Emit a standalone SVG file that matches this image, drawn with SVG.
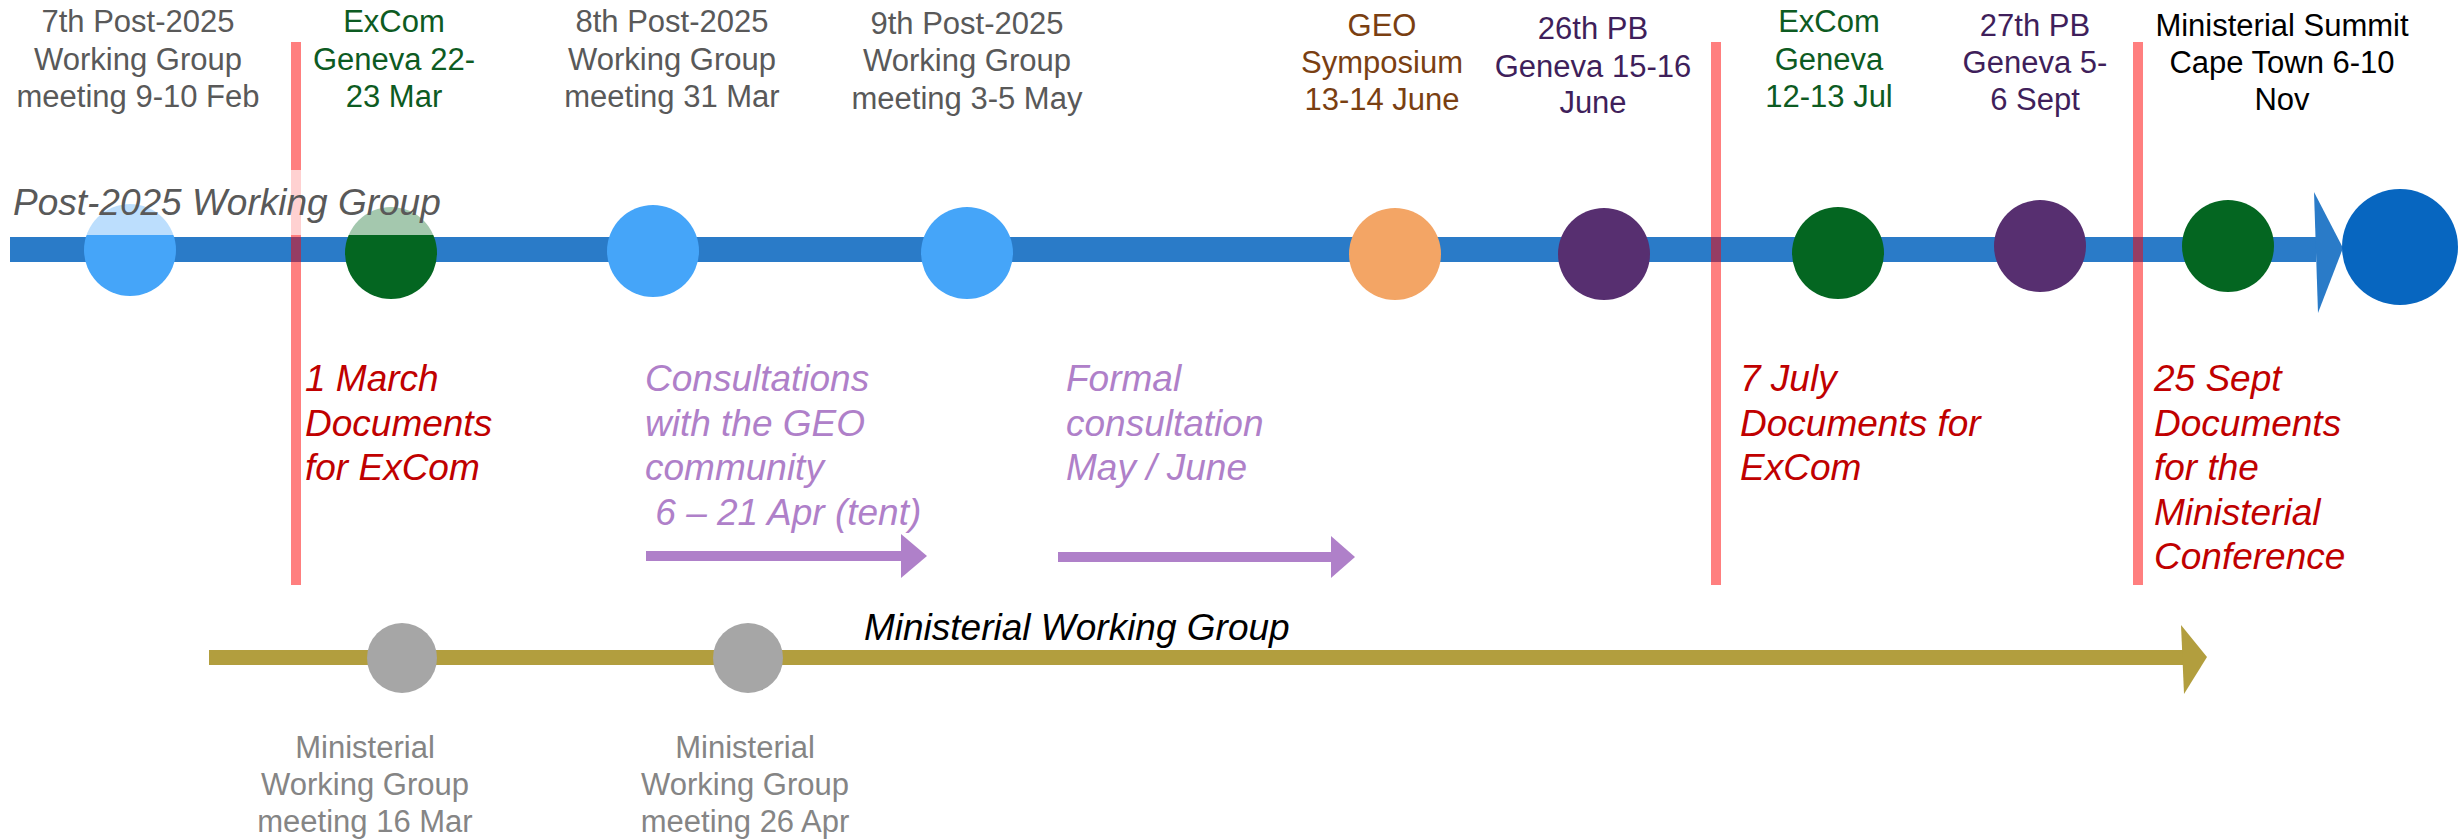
<svg xmlns="http://www.w3.org/2000/svg" width="2464" height="839" viewBox="0 0 2464 839">
<style>
.lbl{font-family:"Liberation Sans",Arial,sans-serif;font-size:31px;text-anchor:middle}
.it{font-family:"Liberation Sans",Arial,sans-serif;font-size:37px;font-style:italic}
.grey{fill:#595959}
.green{fill:#0D5B22}
.brown{fill:#7A3F12}
.purple{fill:#3F1F5B}
.black{fill:#000}
.mgrey{fill:#858585}
.red{fill:#C00000}
.lav{fill:#AF80C9}
.redline{fill:#FF0000;fill-opacity:0.5}
</style>
<rect width="2464" height="839" fill="#fff"/>
<g id="connectors">
  <rect x="10" y="237" width="2306" height="25" fill="#2A7BC8"/>
  <polygon points="2314,192 2343,248 2318,313" fill="#2A7BC8"/>
  <rect x="209" y="650" width="1975" height="15" fill="#B29E3E"/>
  <polygon points="2181,625 2207,657 2184,694" fill="#B29E3E"/>
  <rect x="646" y="551" width="257" height="10" fill="#AF80C9"/>
  <polygon points="901,534 927,556 901,578" fill="#AF80C9"/>
  <rect x="1058" y="552" width="275" height="10" fill="#AF80C9"/>
  <polygon points="1331,536 1355,557 1331,578" fill="#AF80C9"/>
</g>
<g id="pwg7"><ellipse cx="130" cy="250" rx="46" ry="46" fill="#45A5F9"/>
<text class="lbl grey"><tspan x="138" y="32">7th Post-2025</tspan><tspan x="138" y="70">Working Group</tspan><tspan x="138" y="107">meeting 9-10 Feb</tspan></text></g>
<g id="excom1"><ellipse cx="391" cy="253" rx="46" ry="46" fill="#046621"/>
<text class="lbl green"><tspan x="394" y="32">ExCom</tspan><tspan x="394" y="70">Geneva 22-</tspan><tspan x="394" y="107">23 Mar</tspan></text></g>
<g id="pwg8"><ellipse cx="653" cy="251" rx="46" ry="46" fill="#45A5F9"/>
<text class="lbl grey"><tspan x="672" y="32">8th Post-2025</tspan><tspan x="672" y="70">Working Group</tspan><tspan x="672" y="107">meeting 31 Mar</tspan></text></g>
<g id="pwg9"><ellipse cx="967" cy="253" rx="46" ry="46" fill="#45A5F9"/>
<text class="lbl grey"><tspan x="967" y="34">9th Post-2025</tspan><tspan x="967" y="71">Working Group</tspan><tspan x="967" y="109">meeting 3-5 May</tspan></text></g>
<g id="geo"><ellipse cx="1395" cy="254" rx="46" ry="46" fill="#F3A565"/>
<text class="lbl brown"><tspan x="1382" y="36">GEO</tspan><tspan x="1382" y="73">Symposium</tspan><tspan x="1382" y="110">13-14 June</tspan></text></g>
<g id="pb26"><ellipse cx="1604" cy="254" rx="46" ry="46" fill="#572F70"/>
<text class="lbl purple"><tspan x="1593" y="39">26th PB</tspan><tspan x="1593" y="77">Geneva 15-16</tspan><tspan x="1593" y="113">June</tspan></text></g>
<g id="excom2"><ellipse cx="1838" cy="253" rx="46" ry="46" fill="#046621"/>
<text class="lbl green"><tspan x="1829" y="32">ExCom</tspan><tspan x="1829" y="70">Geneva</tspan><tspan x="1829" y="107">12-13 Jul</tspan></text></g>
<g id="pb27"><ellipse cx="2040" cy="246" rx="46" ry="46" fill="#572F70"/>
<text class="lbl purple"><tspan x="2035" y="36">27th PB</tspan><tspan x="2035" y="73">Geneva 5-</tspan><tspan x="2035" y="110">6 Sept</tspan></text></g>
<g id="summit"><ellipse cx="2228" cy="246" rx="46" ry="46" fill="#046621"/>
<text class="lbl black"><tspan x="2282" y="36">Ministerial Summit</tspan><tspan x="2282" y="73">Cape Town 6-10</tspan><tspan x="2282" y="110">Nov</tspan></text></g>
<g id="end"><ellipse cx="2400" cy="247" rx="58" ry="58" fill="#0766C0"/></g>
<g id="deadlines">
  <rect class="redline" x="291" y="42" width="10" height="543"/>
  <rect class="redline" x="1711" y="42" width="10" height="543"/>
  <rect class="redline" x="2133" y="42" width="10" height="543"/>
</g>
<g id="pwg-title">
  <rect x="8" y="170" width="442" height="65" fill="#fff" fill-opacity="0.64"/>
  <text class="it grey" x="13" y="215">Post-2025 Working Group</text>
</g>
<g id="doc1"><text class="it red"><tspan x="305" y="391">1 March</tspan><tspan x="305" y="435.5">Documents</tspan><tspan x="305" y="480">for ExCom</tspan></text></g>
<g id="consult1"><text class="it lav"><tspan x="645" y="391">Consultations</tspan><tspan x="645" y="435.5">with the GEO</tspan><tspan x="645" y="480">community</tspan><tspan x="645" y="524.5" xml:space="preserve"> 6 – 21 Apr (tent)</tspan></text></g>
<g id="consult2"><text class="it lav"><tspan x="1066" y="391">Formal</tspan><tspan x="1066" y="435.5">consultation</tspan><tspan x="1066" y="480">May / June</tspan></text></g>
<g id="doc2"><text class="it red"><tspan x="1740" y="391">7 July</tspan><tspan x="1740" y="435.5">Documents for</tspan><tspan x="1740" y="480">ExCom</tspan></text></g>
<g id="doc3"><text class="it red"><tspan x="2154" y="391">25 Sept</tspan><tspan x="2154" y="435.5">Documents</tspan><tspan x="2154" y="480">for the</tspan><tspan x="2154" y="524.5">Ministerial</tspan><tspan x="2154" y="569">Conference</tspan></text></g>
<g id="mwg-title"><text class="it black" x="864" y="640">Ministerial Working Group</text></g>
<g id="mwg1"><ellipse cx="402" cy="658" rx="35" ry="35" fill="#A6A6A6"/>
<text class="lbl mgrey"><tspan x="365" y="758">Ministerial</tspan><tspan x="365" y="795">Working Group</tspan><tspan x="365" y="832">meeting 16 Mar</tspan></text></g>
<g id="mwg2"><ellipse cx="748" cy="658" rx="35" ry="35" fill="#A6A6A6"/>
<text class="lbl mgrey"><tspan x="745" y="758">Ministerial</tspan><tspan x="745" y="795">Working Group</tspan><tspan x="745" y="832">meeting 26 Apr</tspan></text></g>
</svg>
